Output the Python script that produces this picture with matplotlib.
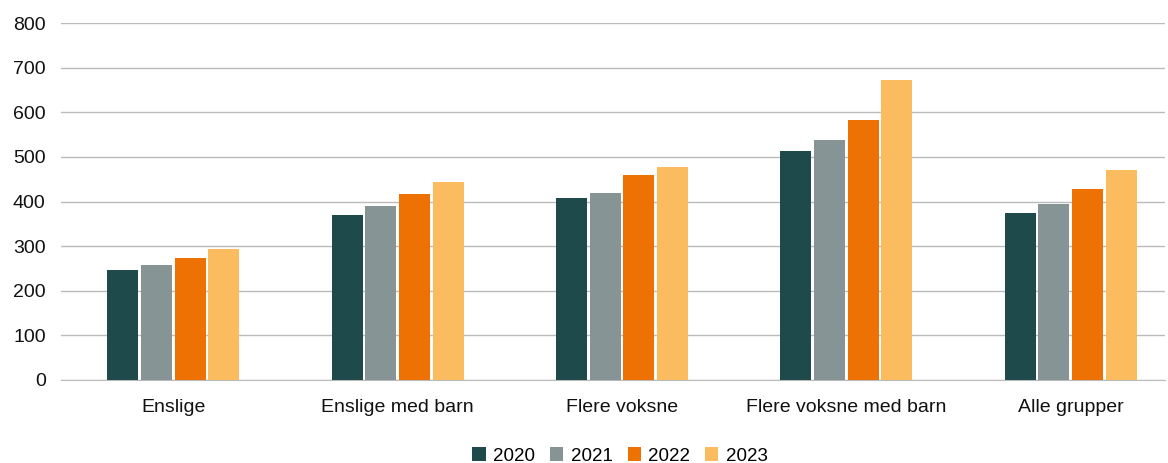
import numpy as np
import matplotlib
matplotlib.use("Agg")
import matplotlib.pyplot as plt

plt.rcParams['font.family'] = ['Liberation Sans', 'DejaVu Sans']

categories = ["Enslige", "Enslige med barn", "Flere voksne", "Flere voksne med barn", "Alle grupper"]
years = ["2020", "2021", "2022", "2023"]
v2020 = [247, 370, 408, 513, 375]
v2021 = [258, 390, 419, 538, 395]
v2022 = [273, 417, 460, 583, 428]
v2023 = [293, 444, 478, 673, 471]
colors = ["#1F4A4B", "#879496", "#EE7203", "#FBBB5F"]

series = [v2020, v2021, v2022, v2023]

fig = plt.figure(figsize=(11.68, 4.63), dpi=100)
ax = fig.add_axes([61 / 1168, 83 / 463, (1165 - 61) / 1168, 357 / 463])

x = np.arange(len(categories))
step = 0.15
width = 0.138
for i, (vals, col, yr) in enumerate(zip(series, colors, years)):
    ax.bar(x + (i - 1.5) * step, vals, width=width, color=col, label=yr, zorder=3)

ax.set_xlim(-0.5, 4.42)
ax.set_ylim(0, 800)
ax.set_yticks(range(0, 801, 100))
ax.yaxis.grid(True, color="#BBBBBB", linewidth=1, zorder=0)
for s in ["top", "right", "left"]:
    ax.spines[s].set_visible(False)
ax.spines["bottom"].set_color("#BBBBBB")
ax.tick_params(axis="both", length=0, labelsize=14, colors="#111111")
ax.tick_params(axis="y", pad=11)
ax.tick_params(axis="x", pad=14)
ax.set_xticks(x)
ax.set_xticklabels(categories)

fig.legend(*ax.get_legend_handles_labels(), loc="center", bbox_to_anchor=(620 / 1168, 7 / 463),
           ncol=4, frameon=False, fontsize=13.5, handlelength=0.7, handleheight=0.7,
           handletextpad=0.4, columnspacing=0.8, borderpad=0)

fig.savefig("out.png", dpi=100)
